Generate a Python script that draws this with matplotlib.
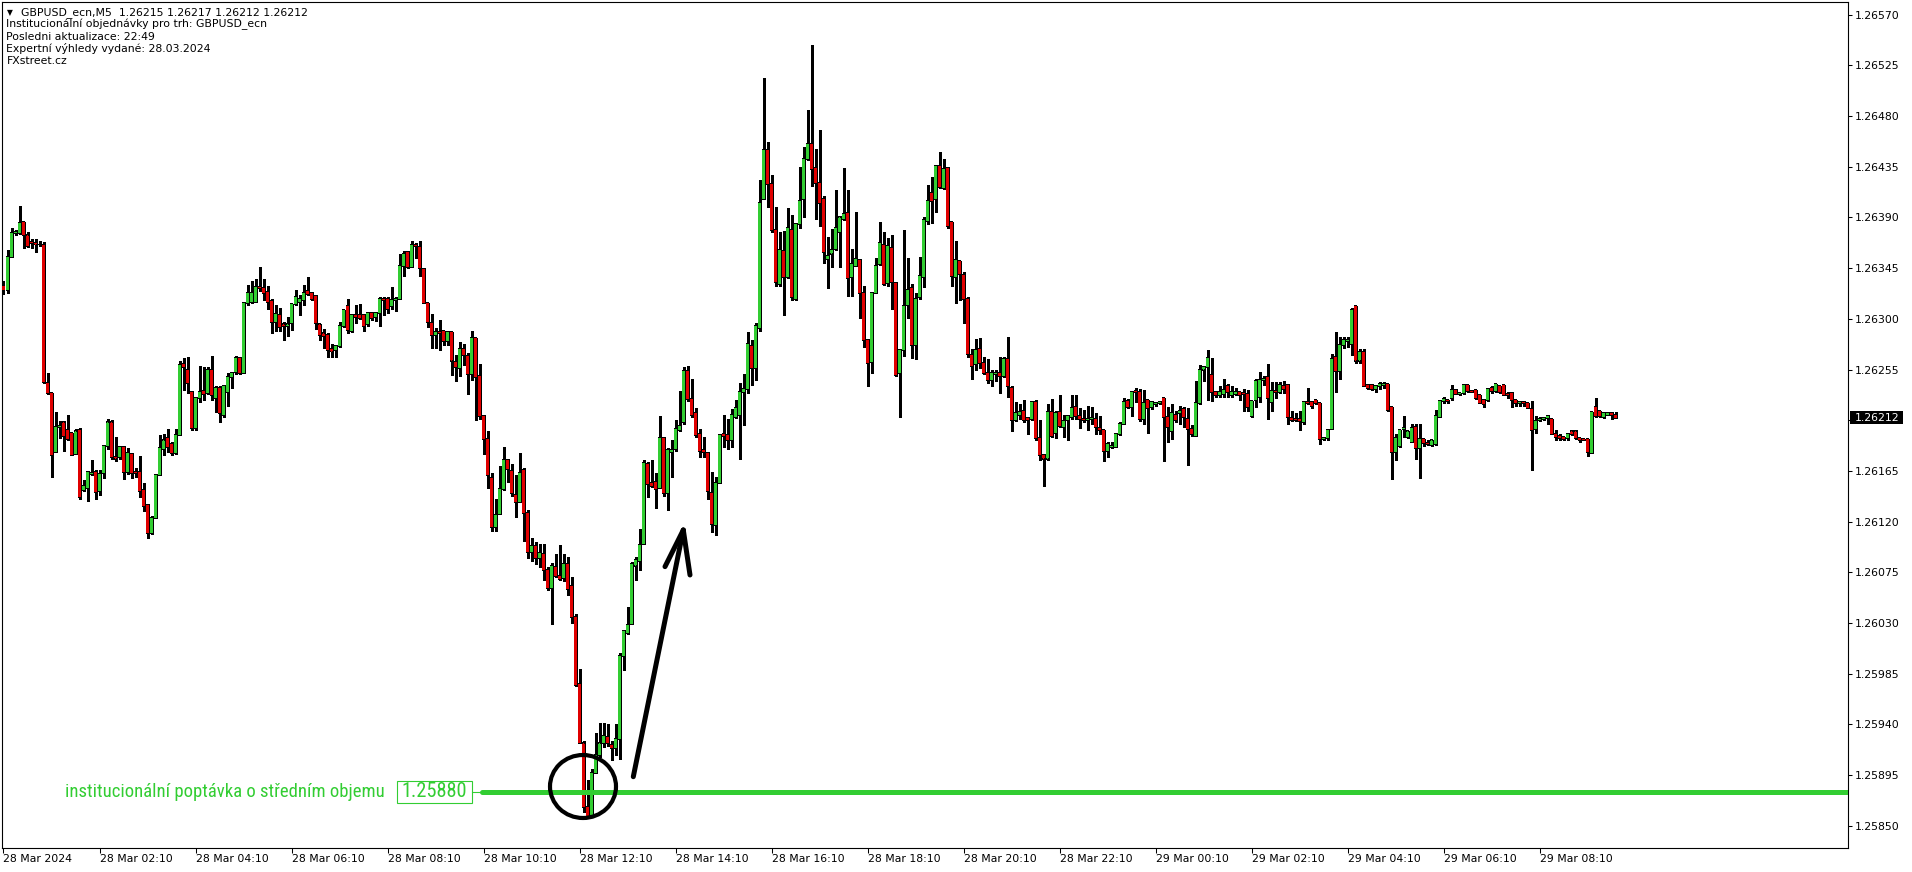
import matplotlib
matplotlib.use("Agg")
import matplotlib.pyplot as plt
from matplotlib.patches import Ellipse, Rectangle
from matplotlib.transforms import blended_transform_factory
from matplotlib import font_manager as fm
import numpy as np

W, H, DPI = 1912, 872, 100

# ---------------- data (prices in points: 26329 -> 1.26329) ----------------
opens = [
 26329, 26326, 26355, 26376, 26376, 26386, 26374, 26368, 26367, 26366,
 26366, 26243, 26234, 26182, 26204, 26208, 26201, 26199, 26180, 26201,
 26148, 26150, 26162, 26164, 26147, 26163, 26187, 26208, 26177, 26177,
 26186, 26164, 26180, 26164, 26164, 26148, 26135, 26110, 26123, 26161,
 26184, 26194, 26189, 26181, 26197, 26260, 26255, 26235, 26203, 26230,
 26236, 26234, 26255, 26230, 26239, 26215, 26235, 26248, 26253, 26265,
 26252, 26314, 26315, 26315, 26328, 26327, 26324, 26316, 26297, 26303,
 26295, 26294, 26296, 26313, 26315, 26317, 26325, 26323, 26320, 26295,
 26287, 26286, 26273, 26272, 26276, 26294, 26311, 26289, 26303, 26303,
 26303, 26295, 26305, 26302, 26305, 26318, 26318, 26311, 26317, 26318,
 26347, 26359, 26346, 26366, 26364, 26344, 26314, 26296, 26286, 26288,
 26289, 26280, 26288, 26262, 26256, 26273, 26267, 26251, 26283, 26249,
 26214, 26193, 26159, 26115, 26127, 26149, 26175, 26165, 26144, 26137,
 26166, 26128, 26093, 26098, 26088, 26091, 26077, 26061, 26080, 26072,
 26070, 26082, 26063, 26035, 25976, 25923, 25867, 25859, 25897, 25913,
 25923, 25929, 25922, 25919, 25927, 26001, 26021, 26029, 26081, 26085,
 26100, 26171, 26154, 26155, 26150, 26194, 26145, 26182, 26184, 26201,
 26208, 26254, 26229, 26216, 26198, 26184, 26181, 26145, 26117, 26154,
 26198, 26197, 26192, 26213, 26215, 26235, 26238, 26276, 26256, 26292,
 26406, 26450, 26420, 26379, 26331, 26360, 26337, 26379, 26318, 26384,
 26406, 26442, 26455, 26434, 26421, 26406, 26353, 26358, 26362, 26377,
 26389, 26394, 26337, 26347, 26352, 26323, 26281, 26262, 26323, 26349,
 26366, 26332, 26363, 26332, 26252, 26272, 26312, 26327, 26277, 26319,
 26337, 26387, 26412, 26406, 26436, 26416, 26434, 26386, 26337, 26351,
 26339, 26318, 26268, 26260, 26273, 26261, 26252, 26246, 26251, 26252,
 26249, 26264, 26239, 26210, 26215, 26218, 26212, 26211, 26226, 26194,
 26179, 26176, 26217, 26199, 26217, 26204, 26210, 26213, 26222, 26214,
 26211, 26210, 26211, 26211, 26203, 26201, 26183, 26186, 26186, 26198,
 26207, 26227, 26222, 26236, 26235, 26211, 26228, 26222, 26224, 26225,
 26230, 26213, 26200, 26215, 26216, 26220, 26211, 26202, 26196, 26225,
 26255, 26257, 26250, 26235, 26232, 26233, 26240, 26232, 26233, 26235,
 26234, 26233, 26214, 26228, 26231, 26246, 26248, 26226, 26236, 26235,
 26240, 26241, 26212, 26211, 26211, 26208, 26226, 26226, 26228, 26225,
 26193, 26194, 26202, 26266, 26254, 26277, 26280, 26278, 26311, 26263,
 26271, 26241, 26241, 26238, 26240, 26241, 26242, 26222, 26182, 26187,
 26202, 26195, 26191, 26204, 26185, 26193, 26190, 26188, 26189, 26213,
 26227, 26228, 26230, 26237, 26233, 26234, 26241, 26236, 26237, 26232,
 26228, 26228, 26239, 26236, 26240, 26241, 26233, 26234, 26228, 26225,
 26226, 26225, 26220, 26202, 26210, 26211, 26212, 26211, 26198, 26196,
 26195, 26194, 26200, 26200, 26194, 26193, 26193, 26181, 26222, 26218,
 26213, 26215, 26216, 26215,
]
highs = [
 26334, 26361, 26381, 26379, 26400, 26386, 26377, 26371, 26371, 26369,
 26368, 26252, 26234, 26217, 26209, 26209, 26215, 26199, 26202, 26203,
 26157, 26165, 26175, 26166, 26166, 26188, 26211, 26210, 26195, 26187,
 26187, 26185, 26181, 26168, 26178, 26154, 26136, 26125, 26162, 26197,
 26198, 26202, 26191, 26202, 26263, 26265, 26266, 26236, 26231, 26258,
 26257, 26257, 26267, 26240, 26240, 26241, 26252, 26253, 26267, 26266,
 26315, 26330, 26334, 26335, 26346, 26335, 26329, 26318, 26312, 26310,
 26297, 26302, 26313, 26326, 26321, 26330, 26337, 26324, 26321, 26295,
 26291, 26287, 26278, 26277, 26297, 26308, 26318, 26304, 26312, 26313,
 26304, 26306, 26306, 26306, 26319, 26319, 26319, 26328, 26319, 26358,
 26360, 26360, 26369, 26367, 26369, 26345, 26314, 26304, 26292, 26299,
 26289, 26289, 26288, 26268, 26279, 26278, 26270, 26289, 26283, 26260,
 26215, 26200, 26163, 26140, 26169, 26186, 26176, 26171, 26161, 26181,
 26168, 26130, 26105, 26102, 26100, 26100, 26080, 26083, 26091, 26099,
 26091, 26089, 26071, 26038, 25989, 25925, 25891, 25900, 25932, 25941,
 25941, 25940, 25925, 25940, 26003, 26024, 26044, 26084, 26089, 26113,
 26175, 26173, 26175, 26163, 26214, 26195, 26185, 26192, 26210, 26236,
 26257, 26258, 26247, 26221, 26202, 26195, 26182, 26164, 26160, 26198,
 26215, 26211, 26220, 26228, 26243, 26251, 26288, 26281, 26296, 26423,
 26514, 26457, 26428, 26399, 26377, 26378, 26398, 26392, 26385, 26435,
 26453, 26485, 26543, 26451, 26468, 26409, 26373, 26380, 26414, 26391,
 26434, 26414, 26362, 26395, 26353, 26329, 26282, 26324, 26354, 26386,
 26377, 26372, 26374, 26333, 26273, 26379, 26354, 26331, 26323, 26355,
 26390, 26419, 26426, 26437, 26448, 26442, 26435, 26386, 26369, 26351,
 26342, 26319, 26273, 26282, 26283, 26266, 26264, 26255, 26255, 26266,
 26266, 26284, 26240, 26226, 26224, 26228, 26213, 26227, 26228, 26210,
 26180, 26224, 26229, 26218, 26232, 26215, 26215, 26232, 26232, 26221,
 26219, 26223, 26222, 26216, 26214, 26201, 26191, 26191, 26199, 26208,
 26230, 26229, 26236, 26239, 26238, 26237, 26228, 26227, 26226, 26227,
 26230, 26222, 26224, 26218, 26223, 26222, 26221, 26206, 26245, 26259,
 26258, 26272, 26265, 26236, 26240, 26247, 26242, 26240, 26239, 26235,
 26238, 26237, 26227, 26247, 26253, 26249, 26260, 26244, 26244, 26244,
 26245, 26242, 26218, 26216, 26218, 26227, 26239, 26227, 26228, 26225,
 26195, 26202, 26269, 26288, 26284, 26284, 26284, 26310, 26311, 26273,
 26273, 26242, 26242, 26241, 26244, 26244, 26242, 26222, 26198, 26201,
 26214, 26200, 26207, 26207, 26207, 26193, 26192, 26192, 26219, 26228,
 26231, 26228, 26241, 26238, 26234, 26242, 26241, 26237, 26237, 26232,
 26229, 26239, 26240, 26242, 26240, 26241, 26235, 26235, 26228, 26227,
 26227, 26225, 26227, 26214, 26213, 26213, 26215, 26211, 26201, 26198,
 26195, 26199, 26201, 26201, 26194, 26193, 26193, 26217, 26230, 26218,
 26217, 26217, 26217, 26217,
]
lows = [
 26322, 26323, 26355, 26374, 26375, 26363, 26364, 26363, 26359, 26365,
 26243, 26233, 26160, 26182, 26194, 26183, 26192, 26179, 26180, 26140,
 26147, 26138, 26161, 26140, 26144, 26159, 26184, 26176, 26174, 26176,
 26158, 26162, 26159, 26160, 26142, 26129, 26105, 26109, 26123, 26161,
 26179, 26182, 26179, 26180, 26197, 26237, 26234, 26201, 26201, 26226,
 26228, 26233, 26228, 26217, 26208, 26213, 26223, 26239, 26251, 26251,
 26252, 26312, 26314, 26315, 26325, 26317, 26309, 26287, 26289, 26289,
 26281, 26285, 26290, 26312, 26303, 26312, 26321, 26317, 26291, 26281,
 26274, 26266, 26266, 26266, 26275, 26293, 26287, 26288, 26296, 26300,
 26289, 26294, 26299, 26298, 26294, 26303, 26305, 26309, 26307, 26318,
 26338, 26345, 26346, 26354, 26338, 26314, 26293, 26274, 26274, 26272,
 26277, 26277, 26250, 26245, 26249, 26259, 26233, 26246, 26210, 26211,
 26180, 26150, 26112, 26112, 26127, 26148, 26155, 26143, 26124, 26137,
 26103, 26088, 26085, 26082, 26080, 26068, 26059, 26029, 26071, 26068,
 26067, 26055, 26030, 25974, 25923, 25862, 25858, 25859, 25897, 25911,
 25920, 25921, 25908, 25913, 25909, 25988, 26020, 26029, 26068, 26077,
 26100, 26142, 26151, 26132, 26150, 26143, 26130, 26160, 26183, 26200,
 26207, 26227, 26213, 26195, 26177, 26177, 26140, 26111, 26108, 26154,
 26186, 26184, 26186, 26212, 26176, 26206, 26234, 26241, 26246, 26289,
 26406, 26399, 26377, 26329, 26329, 26303, 26336, 26317, 26317, 26381,
 26390, 26441, 26418, 26389, 26382, 26350, 26327, 26346, 26361, 26346,
 26388, 26320, 26320, 26347, 26301, 26275, 26240, 26252, 26323, 26348,
 26330, 26329, 26309, 26249, 26213, 26267, 26301, 26265, 26264, 26318,
 26328, 26384, 26385, 26395, 26416, 26415, 26381, 26329, 26314, 26317,
 26296, 26266, 26247, 26255, 26256, 26251, 26243, 26240, 26245, 26234,
 26248, 26231, 26200, 26209, 26211, 26208, 26198, 26210, 26192, 26175,
 26152, 26175, 26195, 26194, 26204, 26195, 26192, 26211, 26211, 26203,
 26208, 26201, 26207, 26198, 26198, 26174, 26177, 26185, 26186, 26197,
 26207, 26221, 26214, 26226, 26209, 26207, 26199, 26220, 26223, 26224,
 26174, 26191, 26193, 26208, 26207, 26204, 26170, 26196, 26196, 26224,
 26245, 26228, 26227, 26231, 26231, 26231, 26231, 26231, 26232, 26228,
 26218, 26218, 26213, 26222, 26226, 26241, 26211, 26218, 26230, 26234,
 26234, 26207, 26209, 26209, 26201, 26207, 26224, 26221, 26224, 26189,
 26192, 26192, 26202, 26235, 26247, 26274, 26275, 26268, 26261, 26261,
 26240, 26238, 26237, 26235, 26238, 26239, 26218, 26158, 26175, 26186,
 26195, 26194, 26191, 26176, 26159, 26187, 26188, 26187, 26188, 26213,
 26225, 26225, 26228, 26233, 26232, 26233, 26235, 26235, 26229, 26225,
 26222, 26227, 26234, 26235, 26234, 26232, 26230, 26222, 26223, 26223,
 26223, 26221, 26166, 26199, 26209, 26210, 26207, 26198, 26192, 26192,
 26192, 26192, 26197, 26193, 26191, 26192, 26178, 26181, 26213, 26213,
 26212, 26215, 26211, 26212,
]
closes = [
 26326, 26355, 26376, 26377, 26385, 26374, 26365, 26367, 26366, 26366,
 26244, 26234, 26179, 26204, 26205, 26196, 26193, 26179, 26200, 26142,
 26152, 26164, 26163, 26146, 26162, 26187, 26208, 26177, 26176, 26186,
 26164, 26181, 26163, 26163, 26147, 26134, 26110, 26123, 26161, 26185,
 26192, 26186, 26181, 26197, 26259, 26257, 26243, 26203, 26230, 26235,
 26233, 26255, 26232, 26239, 26216, 26240, 26248, 26252, 26265, 26252,
 26314, 26323, 26323, 26328, 26327, 26323, 26315, 26297, 26304, 26293,
 26294, 26295, 26313, 26319, 26318, 26323, 26322, 26318, 26296, 26286,
 26285, 26272, 26271, 26276, 26294, 26308, 26290, 26303, 26302, 26301,
 26294, 26305, 26301, 26305, 26318, 26317, 26309, 26317, 26318, 26347,
 26358, 26346, 26366, 26365, 26345, 26314, 26297, 26286, 26288, 26287,
 26280, 26288, 26263, 26257, 26273, 26268, 26251, 26283, 26248, 26214,
 26193, 26161, 26115, 26126, 26149, 26175, 26167, 26145, 26137, 26163,
 26128, 26093, 26098, 26088, 26092, 26077, 26061, 26081, 26072, 26069,
 26082, 26060, 26035, 25975, 25923, 25867, 25859, 25897, 25913, 25923,
 25930, 25923, 25919, 25927, 26001, 26023, 26028, 26082, 26086, 26099,
 26172, 26153, 26152, 26149, 26194, 26145, 26184, 26184, 26202, 26205,
 26254, 26229, 26215, 26197, 26183, 26182, 26147, 26118, 26154, 26197,
 26196, 26192, 26215, 26221, 26235, 26238, 26278, 26256, 26294, 26403,
 26450, 26420, 26379, 26333, 26361, 26337, 26381, 26319, 26384, 26405,
 26442, 26455, 26433, 26421, 26403, 26359, 26356, 26361, 26381, 26390,
 26393, 26336, 26349, 26353, 26323, 26281, 26261, 26323, 26347, 26367,
 26331, 26365, 26333, 26250, 26272, 26311, 26326, 26277, 26318, 26338,
 26388, 26405, 26405, 26436, 26417, 26433, 26382, 26338, 26352, 26340,
 26318, 26269, 26258, 26272, 26261, 26252, 26246, 26252, 26252, 26249,
 26264, 26240, 26210, 26216, 26217, 26210, 26210, 26226, 26194, 26179,
 26176, 26217, 26196, 26216, 26205, 26209, 26214, 26221, 26214, 26211,
 26210, 26211, 26212, 26204, 26201, 26183, 26189, 26187, 26198, 26207,
 26226, 26222, 26235, 26235, 26211, 26225, 26221, 26226, 26225, 26226,
 26213, 26204, 26216, 26210, 26218, 26213, 26202, 26198, 26225, 26255,
 26257, 26265, 26235, 26232, 26235, 26237, 26235, 26235, 26235, 26232,
 26233, 26222, 26227, 26245, 26246, 26247, 26230, 26236, 26235, 26241,
 26238, 26213, 26210, 26210, 26209, 26226, 26225, 26223, 26225, 26193,
 26194, 26201, 26264, 26254, 26277, 26281, 26281, 26308, 26263, 26271,
 26240, 26239, 26238, 26240, 26242, 26242, 26219, 26182, 26194, 26201,
 26203, 26200, 26203, 26185, 26193, 26190, 26189, 26192, 26214, 26227,
 26229, 26227, 26237, 26233, 26234, 26241, 26236, 26235, 26230, 26225,
 26224, 26238, 26236, 26242, 26235, 26232, 26232, 26228, 26225, 26226,
 26225, 26221, 26201, 26209, 26211, 26212, 26214, 26198, 26195, 26194,
 26193, 26198, 26198, 26194, 26192, 26192, 26182, 26217, 26214, 26214,
 26216, 26216, 26215, 26212,
]

time_labels = ["28 Mar 2024", "28 Mar 02:10", "28 Mar 04:10", "28 Mar 06:10",
               "28 Mar 08:10", "28 Mar 10:10", "28 Mar 12:10", "28 Mar 14:10",
               "28 Mar 16:10", "28 Mar 18:10", "28 Mar 20:10", "28 Mar 22:10",
               "29 Mar 00:10", "29 Mar 02:10", "29 Mar 04:10", "29 Mar 06:10",
               "29 Mar 08:10"]
bars_per_label = 24
price_ticks = [1.25850, 1.25895, 1.25940, 1.25985, 1.26030, 1.26075, 1.26120,
               1.26165, 1.26210, 1.26255, 1.26300, 1.26345, 1.26390, 1.26435,
               1.26480, 1.26525, 1.26570]
current_price = 1.26212
level_price = 1.25880
level_text = "institucionální poptávka o středním objemu"
header_lines = ["GBPUSD_ecn,M5  1.26215 1.26217 1.26212 1.26212",
                "Institucionální objednávky pro trh: GBPUSD_ecn",
                "Posledni aktualizace: 22:49",
                "Expertní výhledy vydané: 28.03.2024",
                "FXstreet.cz"]

BULL = "#32cd32"
BEAR = "#e00000"
LEVEL_GREEN = "#32cd32"

# ---------------- figure ----------------
fig = plt.figure(figsize=(W / DPI, H / DPI), dpi=DPI)
fig.patch.set_facecolor("white")
L_PX, R_PX, T_PX, B_PX = 2, 1848, 2, 848
ax = fig.add_axes([L_PX / W, (H - B_PX) / H, (R_PX - L_PX) / W, (B_PX - T_PX) / H])
ax.set_facecolor("white")

n = min(len(opens), len(highs), len(lows), len(closes))
o = 1 + np.array(opens[:n]) / 1e5
hi = 1 + np.array(highs[:n]) / 1e5
lo = 1 + np.array(lows[:n]) / 1e5
c = 1 + np.array(closes[:n]) / 1e5
hi = np.maximum(hi, np.maximum(o, c))
lo = np.minimum(lo, np.minimum(o, c))
x = np.arange(n)

# candle centres on pixel centres (4 px per bar)
X0 = -(3.5 - L_PX) / 4.0
ax.set_xlim(X0, X0 + (R_PX - L_PX) / 4.0)
ax.set_ylim(1.258302, 1.265813)
px_price = (1.265813 - 1.258302) / (B_PX - T_PX)

# wicks
ax.vlines(x, lo, hi, colors="black", linewidth=0.8, zorder=2, antialiased=False)
# body outline (black, 3 px wide, at least 1 px tall)
body_lo = np.minimum(o, c)
body_h = np.abs(c - o)
outer = ax.bar(x, np.maximum(body_h + px_price, px_price), bottom=body_lo - 0.5 * px_price,
               width=0.72, color="black", linewidth=0, zorder=3, antialiased=False)
# coloured inner fill (1 px wide)
inner_h = body_h - 1.0 * px_price
mask = inner_h > 0
colors = np.where(c >= o, BULL, BEAR)
inner = ax.bar(x[mask], inner_h[mask], bottom=body_lo[mask] + 0.5 * px_price, width=0.3,
               color=colors[mask], linewidth=0, zorder=4, antialiased=False)
for p in list(outer) + list(inner):
    p.set_snap(False)

# axes styling
for s in ax.spines.values():
    s.set_color("black")
    s.set_linewidth(0.8)
ax.yaxis.tick_right()
ax.set_yticks(price_ticks)
ax.set_yticklabels(["" if abs(p - current_price) < 0.0001 else f"{p:.5f}" for p in price_ticks])
ax.tick_params(axis="y", direction="out", length=3, width=0.75, pad=2.2,
               labelsize=7.8, colors="black", left=False, right=True,
               labelleft=False, labelright=True)
ax.set_xticks([k * bars_per_label for k in range(len(time_labels))])
ax.set_xticklabels(time_labels, ha="left")
ax.tick_params(axis="x", direction="out", length=3.8, width=0.75, pad=0.8,
               labelsize=7.8, colors="black")

# current price marker on the right scale
bt = blended_transform_factory(fig.transFigure, ax.transData)
fig.add_artist(Rectangle((1850 / W, current_price - 6.5 * px_price), 53 / W, 13 * px_price,
                         transform=bt, facecolor="black", edgecolor="none", zorder=5))
fig.text(1855 / W, current_price, f"{current_price:.5f}", transform=bt, color="white",
         fontsize=7.8, va="center", ha="left", zorder=6)

# header text
fig.text(7 / W, 1 - 12.5 / H, "\u25bc", fontsize=5.5, va="center", ha="left")
for k, line in enumerate(header_lines):
    xx = 21 if k == 0 else 6.5
    fig.text(xx / W, 1 - (12.2 + 12.2 * k) / H, line, fontsize=7.8,
             va="center", ha="left", color="black")

# ---------------- level annotation ----------------
names = {f.name for f in fm.fontManager.ttflist}
narrow = next((nm for nm in ["Liberation Sans Narrow", "Arial Narrow", "Roboto Condensed",
                             "Open Sans Condensed"] if nm in names), "Liberation Sans")

def px2x(px):
    return X0 + (px - L_PX) / 4.0

box_x0, box_x1 = px2x(397), px2x(472)
box_h = 22 * px_price
ax.add_patch(Rectangle((box_x0, level_price - box_h / 2), box_x1 - box_x0, box_h,
                       facecolor="white", edgecolor=LEVEL_GREEN, linewidth=0.8, zorder=6))
ax.plot([box_x1, px2x(481.5)], [level_price, level_price], color=LEVEL_GREEN,
        linewidth=0.8, zorder=6)
ax.plot([px2x(481.5), 470], [level_price, level_price], color=LEVEL_GREEN,
        linewidth=3.6, solid_capstyle="round", zorder=6)

t_box = ax.text((box_x0 + box_x1) / 2, level_price, f"{level_price:.5f}",
                color=LEVEL_GREEN, fontsize=15, family=narrow, ha="center",
                va="center", zorder=7)
t_lbl = ax.text(px2x(385), level_price, level_text, color=LEVEL_GREEN,
                fontsize=13, family=narrow, ha="right", va="center", zorder=7)

renderer = fig.canvas.get_renderer()
for t, target in ((t_box, 66.0), (t_lbl, 319.0)):
    w = t.get_window_extent(renderer).width
    t.set_fontsize(t.get_fontsize() * target / w)

# circle around the low
ax.add_patch(Ellipse((px2x(583), 1.258848), 66 / 4.0, 63 * px_price, fill=False,
                     edgecolor="black", linewidth=3.0, zorder=8))

# arrow
tail = (px2x(633.3), 1.258935)
tip = (px2x(683.3), 1.261125)
barb_l = (px2x(665), 1.260800)
barb_r = (px2x(690), 1.260726)
for a, b in ((tail, tip), (tip, barb_l), (tip, barb_r)):
    ax.plot([a[0], b[0]], [a[1], b[1]], color="black", linewidth=3.6,
            solid_capstyle="round", zorder=8)

fig.savefig("out.png", dpi=DPI, facecolor="white")
